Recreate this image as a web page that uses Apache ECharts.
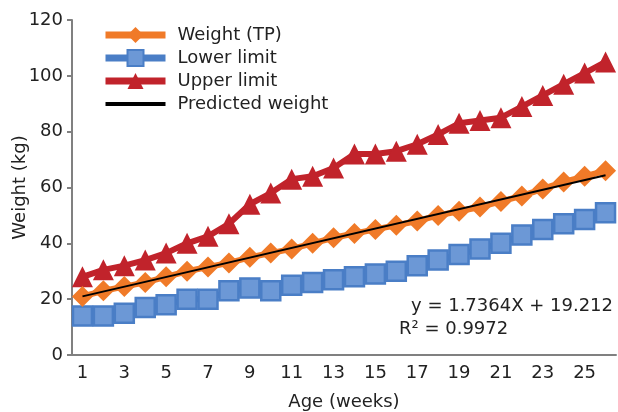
<!DOCTYPE html>
<html>
<head>
<meta charset="utf-8">
<script src="https://cdn.jsdelivr.net/npm/echarts@6/dist/echarts.min.js"></script>
<style>
    html, body { margin: 0; padding: 0; background: #fff; }
    #chart { width: 618px; height: 412px; }
</style>
</head>
<body>
<div id="chart"></div>
<script>
    // weeks 1..26
    let weeks = [];
    for (let i = 1; i <= 26; i++) weeks.push(String(i));

    let weightTP = [21, 23, 24.5, 26, 28, 30, 31.5, 33, 35, 36.5, 38, 40, 42, 43.5, 45, 46.5, 48, 50, 51.5, 53, 55, 57, 59.5, 62, 64, 66];
    let lowerLimit = [14, 14, 15, 17, 18, 20, 20, 23, 24, 23, 25, 26, 27, 28, 29, 30, 32, 34, 36, 38, 40, 43, 45, 47, 48.5, 51];
    let upperLimit = [28, 30.5, 32, 34, 36.5, 40, 42.5, 47, 54, 58, 63, 64, 67, 72, 72, 73, 75.5, 79, 83, 84, 85, 89, 93, 97, 101, 105];
    // trend line end points (week 1 and week 26)
    let predicted = [['1', 21], ['26', 64.4]];

    let yTicks = [0, 20, 40, 60, 80, 100, 120];

    let font = 'DejaVu Sans, sans-serif';
    let myChart = echarts.init(document.getElementById('chart'));

    let option = {
        animation: false,
        textStyle: { fontFamily: font },
        grid: { left: 72, right: 2, top: 20, bottom: 57, containLabel: false, outerBoundsMode: 'none' },
        legend: {
            orient: 'vertical',
            left: 97,
            top: 21,
            itemWidth: 60,
            itemHeight: 20,
            itemGap: 5,
            lineStyle: { width: 7 },
            textStyle: { fontSize: 18, color: '#222', fontFamily: font, padding: [0, 0, 0, 7] },
            data: [
                'Weight (TP)', 'Lower limit', 'Upper limit',
                { name: 'Predicted weight', itemStyle: { opacity: 0 }, lineStyle: { width: 4 } }
            ]
        },
        xAxis: {
            type: 'category',
            data: weeks,
            name: 'Age (weeks)',
            nameLocation: 'middle',
            nameGap: 38,
            nameTextStyle: { fontSize: 18, color: '#222' },
            axisLine: { lineStyle: { color: '#808080', width: 2 } },
            axisTick: { interval: 0, length: 5, lineStyle: { color: '#808080', width: 2 } },
            axisLabel: { interval: 1, fontSize: 18, color: '#222', margin: 9 }
        },
        yAxis: {
            type: 'value',
            min: yTicks[0],
            max: yTicks[yTicks.length - 1],
            interval: 20,
            name: 'Weight (kg)',
            nameLocation: 'middle',
            nameGap: 43,
            nameMoveOverlap: false,
            nameTextStyle: { fontSize: 18, color: '#222' },
            splitLine: { show: false },
            axisLine: { show: true, lineStyle: { color: '#808080', width: 2 } },
            axisTick: { show: true, length: 5, lineStyle: { color: '#808080', width: 2 } },
            axisLabel: { fontSize: 18, color: '#222', margin: 9 }
        },
        graphic: [{
            type: 'text',
            right: 5,
            top: 297,
            style: { text: 'y = 1.7364X + 19.212', fontSize: 18, fill: '#222', fontFamily: font }
        }, {
            type: 'text',
            left: 399,
            top: 320,
            style: { text: 'R² = 0.9972', fontSize: 18, fill: '#222', fontFamily: font }
        }],
        series: [{
            name: 'Upper limit',
            type: 'line',
            data: upperLimit,
            symbol: 'triangle',
            symbolSize: 21,
            showAllSymbol: true,
            z: 2,
            lineStyle: { color: '#C1232B', width: 6 },
            itemStyle: { color: '#C1232B' }
        }, {
            name: 'Lower limit',
            type: 'line',
            data: lowerLimit,
            symbol: 'rect',
            symbolSize: 19,
            showAllSymbol: true,
            z: 2,
            lineStyle: { color: '#4A7EC6', width: 6 },
            itemStyle: { color: '#6C98D6', borderColor: '#4A7EC6', borderWidth: 2.5 }
        }, {
            name: 'Weight (TP)',
            type: 'line',
            data: weightTP,
            symbol: 'diamond',
            symbolSize: 21,
            showAllSymbol: true,
            z: 3,
            lineStyle: { color: '#F07A28', width: 6 },
            itemStyle: { color: '#F07A28' }
        }, {
            name: 'Predicted weight',
            type: 'line',
            data: predicted,
            symbol: 'none',
            z: 4,
            lineStyle: { color: '#000', width: 2 },
            itemStyle: { color: '#000' }
        }]
    };
    myChart.setOption(option);
</script>
</body>
</html>
